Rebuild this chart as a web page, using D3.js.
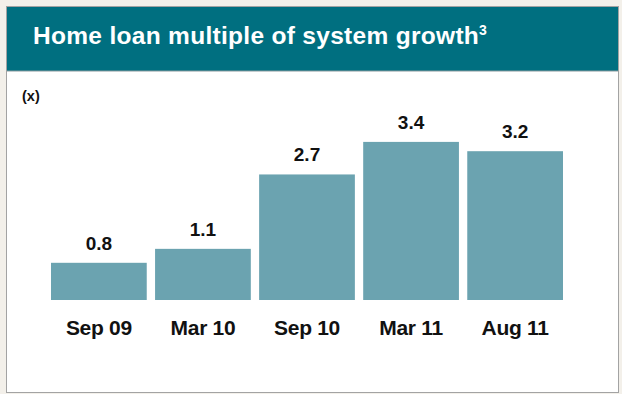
<!DOCTYPE html>
<html><head><meta charset="utf-8">
<script src="https://cdn.jsdelivr.net/npm/d3@7"></script>
<style>body{margin:0;background:#f3f0ea;}svg{display:block;font-family:"Liberation Sans",Arial,sans-serif;}</style>
</head><body>
<svg id="c" width="622" height="394"></svg>
<script>
const categories = ["Sep 09","Mar 10","Sep 10","Mar 11","Aug 11"];
const values = [0.8, 1.1, 2.7, 3.4, 3.2];
const valueLabels = ["0.8","1.1","2.7","3.4","3.2"];
const title = "Home loan multiple of system growth";
const unitLabel = "(x)";

const svg = d3.select("#c");
svg.append("rect").attr("x",0).attr("y",0).attr("width",622).attr("height",394).attr("fill","#f3f0ea");
svg.append("rect").attr("x",6.5).attr("y",6.5).attr("width",612).attr("height",386).attr("fill","#fff").attr("stroke","#a3a3a3");
svg.append("rect").attr("x",7).attr("y",7).attr("width",611).attr("height",64).attr("fill","#006f80");
svg.append("line").attr("x1",7).attr("x2",618).attr("y1",71).attr("y2",71).attr("stroke","#8a9a9e");
const t = svg.append("text").attr("x",33).attr("y",43.5).attr("fill","#fff").attr("font-size",24.5).attr("font-weight","bold").attr("letter-spacing",0.3).text(title);
t.append("tspan").attr("font-size",14).attr("dy",-9).text("3");
svg.append("text").attr("x",22).attr("y",101).attr("font-size",14.5).attr("font-weight","bold").attr("fill","#111").text(unitLabel);

const x = d3.scaleBand().domain(categories).range([51,563]).paddingInner(0.08).paddingOuter(0);
const y = d3.scaleLinear().domain([0,4]).range([300,300-4*46.5]);

svg.selectAll("rect.bar").data(values).join("rect").attr("class","bar")
  .attr("x",(d,i)=>x(categories[i])).attr("width",x.bandwidth())
  .attr("y",d=>y(d)).attr("height",d=>y(0)-y(d)).attr("fill","#6ba3b0");

svg.selectAll("text.val").data(values).join("text").attr("class","val")
  .attr("x",(d,i)=>x(categories[i])+x.bandwidth()/2).attr("y",d=>y(d)-13)
  .attr("text-anchor","middle").attr("font-size",19).attr("font-weight","bold").attr("fill","#111")
  .text((d,i)=>valueLabels[i]);

const ax = d3.axisBottom(x).tickSize(0).tickPadding(0);
const g = svg.append("g").attr("transform","translate(0,300)").call(ax);
g.select(".domain").remove();
g.selectAll("text").attr("font-size",21).attr("font-weight","bold").attr("fill","#111")
  .attr("font-family","'Liberation Sans',Arial,sans-serif").attr("letter-spacing",-0.3).attr("dy",0).attr("y",35);
</script>
</body></html>
